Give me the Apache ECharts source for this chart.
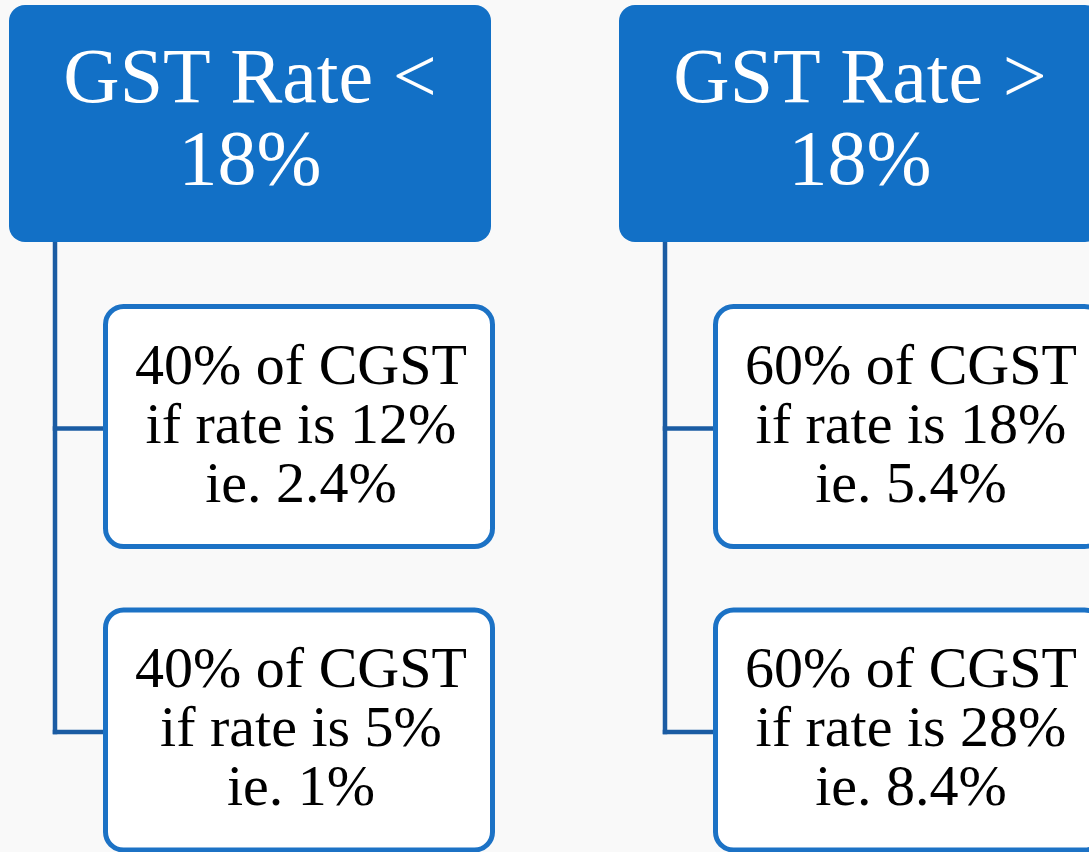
<!DOCTYPE html>
<html>
<head>
<meta charset="utf-8">
<script src="https://cdn.jsdelivr.net/npm/echarts@6/dist/echarts.min.js"></script>
<style>
html,body{margin:0;padding:0;background:#f9f9f9;}
#chart{width:1089px;height:852px;}
</style>
</head>
<body>
<div id="chart"></div>
<script>
// Diagram content
const columns = [0, 1];
const headers = ['GST Rate <\n18%', 'GST Rate >\n18%'];
const childLevels = [1, 2];
const childTexts = [
  ['40% of CGST\nif rate is 12%\nie. 2.4%', '40% of CGST\nif rate is 5%\nie. 1%'],
  ['60% of CGST\nif rate is 18%\nie. 5.4%', '60% of CGST\nif rate is 28%\nie. 8.4%']
];

const FONT = '"Liberation Serif", "DejaVu Serif", serif';
const headerData = columns.map(c => [c, 0]);
const childData = [];
columns.forEach(c => childLevels.forEach((l, i) => childData.push([c, l, i])));
const connectorData = columns.map(c => [c, 0]);

const chart = echarts.init(document.getElementById('chart'));

chart.setOption({
  backgroundColor: '#f9f9f9',
  animation: false,
  grid: { left: 9, top: 5, right: 0, bottom: 0 },
  xAxis: { type: 'value', min: 0, max: 1080 / 610, show: false },
  yAxis: { type: 'value', min: 0, max: 847 / 303.5, inverse: true, show: false },
  series: [
    {
      type: 'custom',
      name: 'connectors',
      data: connectorData,
      z: 1,
      renderItem: function (params, api) {
        const c = api.value(0);
        const p0 = api.coord([c, 0]);
        const x = p0[0] + 46;
        const topY = p0[1] + 237;
        const children = [];
        let lastY = topY;
        childLevels.forEach(l => {
          const pc = api.coord([c, l]);
          const cy = pc[1] - 2 + 122;
          lastY = Math.max(lastY, cy);
          children.push({
            type: 'line',
            shape: { x1: x - 2.25, y1: cy, x2: p0[0] + 96, y2: cy },
            style: { stroke: '#1b5ca3', lineWidth: 4.5 }
          });
        });
        children.push({
          type: 'line',
          shape: { x1: x, y1: topY, x2: x, y2: lastY + 2.25 },
          style: { stroke: '#1b5ca3', lineWidth: 4.5 }
        });
        return { type: 'group', children: children };
      }
    },
    {
      type: 'custom',
      name: 'headers',
      data: headerData,
      z: 2,
      renderItem: function (params, api) {
        const c = api.value(0);
        const p = api.coord([c, 0]);
        const w = 482, h = 237;
        return {
          type: 'group',
          children: [
            {
              type: 'rect',
              shape: { x: p[0], y: p[1], width: w, height: h, r: 16 },
              style: { fill: '#1270c6' }
            },
            {
              type: 'text',
              style: {
                text: headers[c],
                x: p[0] + w / 2,
                y: p[1] + h / 2 - 1,
                align: 'center',
                verticalAlign: 'middle',
                fill: '#ffffff',
                font: '78px ' + FONT,
                lineHeight: 82
              }
            }
          ]
        };
      }
    },
    {
      type: 'custom',
      name: 'children',
      data: childData,
      z: 3,
      renderItem: function (params, api) {
        const c = api.value(0);
        const l = api.value(1);
        const i = api.value(2);
        const p = api.coord([c, l]);
        const x = p[0] + 96.5, y = p[1] - 2;
        const w = 387, h = 240;
        return {
          type: 'group',
          children: [
            {
              type: 'rect',
              shape: { x: x, y: y, width: w, height: h, r: 18 },
              style: { fill: '#ffffff', stroke: '#1c72c5', lineWidth: 5 }
            },
            {
              type: 'text',
              style: {
                text: childTexts[c][i],
                x: x + w / 2 + 2,
                y: y + h / 2 + 1,
                align: 'center',
                verticalAlign: 'middle',
                fill: '#000000',
                font: '58px ' + FONT,
                lineHeight: 59
              }
            }
          ]
        };
      }
    }
  ]
});
</script>
</body>
</html>
